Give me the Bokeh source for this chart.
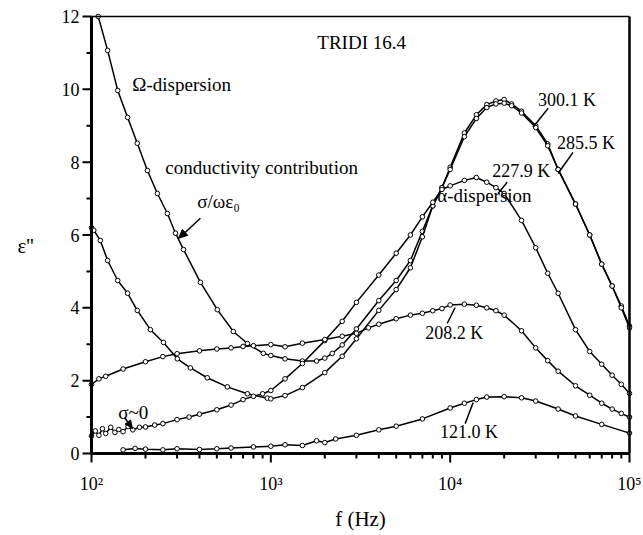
from bokeh.plotting import figure
from bokeh.models import Range1d, Label
from bokeh.core.properties import value
from bokeh.embed import file_html
from bokeh.resources import INLINE

# ---------------- data ----------------
f_300 = [109, 123, 140, 159, 180, 205, 233, 265, 294, 326, 405, 503, 618, 740, 908, 1000,
         1200, 1500, 1800, 2000, 2200, 2500, 3000, 4000, 5000, 6000, 7000, 8000, 9000,
         10000, 12000, 14000, 16000, 18000, 20000, 22000, 25000, 30000, 35000, 40000,
         50000, 60000, 70000, 80000, 90000, 100000]
e_300 = [12.0, 11.07, 9.97, 9.23, 8.52, 7.77, 7.14, 6.59, 6.05, 5.6, 4.7, 3.95, 3.35, 3.02, 2.75, 2.69,
         2.6, 2.54, 2.54, 2.62, 2.75, 2.98, 3.42, 4.2, 4.75, 5.3, 6.1, 6.8, 7.3,
         7.86, 8.8, 9.3, 9.58, 9.68, 9.72, 9.6, 9.4, 9.0, 8.5, 7.8,
         6.85, 6.0, 5.2, 4.6, 4.05, 3.5]

f_285 = [100, 103, 112, 123, 140, 159, 180, 213, 252, 301, 356, 442, 572, 740, 956, 1000,
         1200, 1500, 2000, 2500, 3000, 4000, 5000, 6000, 7000, 8000, 9000, 10000, 12000,
         14000, 16000, 18000, 20000, 22000, 25000, 30000, 35000, 40000, 50000, 60000,
         70000, 80000, 90000, 100000]
e_285 = [6.2, 6.13, 5.85, 5.3, 4.75, 4.4, 3.93, 3.4, 3.05, 2.6, 2.35, 2.08, 1.83, 1.64, 1.52, 1.5,
         1.59, 1.81, 2.22, 2.67, 3.15, 3.93, 4.5, 5.1, 5.95, 6.8, 7.3, 7.8, 8.7,
         9.2, 9.5, 9.6, 9.62, 9.55, 9.35, 8.95, 8.45, 7.8, 6.85, 6.0,
         5.2, 4.6, 4.0, 3.45]

f_228 = [100, 105, 110, 115, 120, 128, 135, 142, 150, 160, 170, 185, 200, 225, 250, 300, 350,
         400, 500, 600, 700, 800, 900, 1000, 1200, 1500, 2000, 2500, 3000, 4000, 5000, 6000,
         7000, 8000, 9000, 10000, 12000, 14000, 16000, 18000, 20000, 25000, 30000, 35000,
         40000, 50000, 60000, 70000, 80000, 90000, 100000]
e_228 = [0.48, 0.62, 0.5, 0.68, 0.55, 0.72, 0.58, 0.66, 0.6, 0.74, 0.65, 0.72, 0.73, 0.78, 0.82, 0.93, 1.0,
         1.08, 1.2, 1.33, 1.48, 1.57, 1.64, 1.73, 2.05, 2.47, 3.1, 3.63, 4.15, 4.9, 5.5, 6.0,
         6.5, 6.9, 7.25, 7.35, 7.5, 7.58, 7.45, 7.3, 7.14, 6.4, 5.65, 4.95,
         4.4, 3.4, 2.8, 2.45, 2.15, 1.9, 1.65]

f_208 = [100, 110, 120, 150, 200, 250, 300, 400, 500, 600, 700, 800, 1000, 1200, 1500, 2000,
         2500, 3000, 3500, 4000, 5000, 6000, 7000, 8000, 9000, 10000, 12000, 14000, 16000,
         18000, 20000, 25000, 30000, 35000, 40000, 50000, 60000, 70000, 80000, 90000, 100000]
e_208 = [1.9, 2.05, 2.12, 2.32, 2.52, 2.66, 2.74, 2.82, 2.87, 2.9, 2.94, 2.96, 2.99, 2.93, 3.03, 3.13,
         3.22, 3.3, 3.45, 3.55, 3.7, 3.8, 3.85, 3.92, 3.98, 4.08, 4.1, 4.07, 4.0,
         3.92, 3.8, 3.37, 2.9, 2.55, 2.26, 1.86, 1.6, 1.38, 1.22, 1.1, 1.0]

f_121 = [150, 175, 200, 250, 300, 400, 500, 600, 800, 1000, 1200, 1500, 1800, 2000, 2300, 3000,
         4000, 5000, 7000, 10000, 12000, 14000, 16000, 20000, 25000, 30000, 40000, 50000,
         70000, 100000]
e_121 = [0.1, 0.14, 0.12, 0.1, 0.13, 0.11, 0.13, 0.15, 0.18, 0.2, 0.24, 0.22, 0.35, 0.3, 0.4, 0.5,
         0.65, 0.75, 0.95, 1.25, 1.38, 1.48, 1.55, 1.56, 1.53, 1.44, 1.22, 1.03,
         0.8, 0.56]

curves = [(f_300, e_300), (f_285, e_285), (f_228, e_228), (f_208, e_208), (f_121, e_121)]

# axis definitions
x_major = [100, 1000, 10000, 100000]
x_major_labels = ["10\u00b2", "10\u00b3", "10\u2074", "10\u2075"]
y_major = [0, 2, 4, 6, 8, 10, 12]
y_minor = [1, 3, 5, 7, 9, 11]
X_MIN, X_MAX = 100, 100000
Y_MIN, Y_MAX = 0, 12

FONT = "Liberation Serif"

# ---------------- layout geometry (pixels) ----------------
W, H = 643, 535
LEFT, RIGHT, TOP, BOTTOM = 91, 14, 16, 82
DEC = (W - LEFT - RIGHT) / 3.0          # pixels per decade
UNIT = (H - TOP - BOTTOM) / 12.0        # pixels per unit of eps''

def xoff(f, px):
    """frequency shifted by px screen pixels (positive = right)"""
    return f * 10 ** (px / DEC)

def yoff(e, px):
    """eps'' value shifted by px screen pixels (positive = up)"""
    return e + px / UNIT

# the frame covers the whole canvas; the axes are drawn in it with the plot's own scales
p = figure(width=W, height=H, x_axis_type="log", x_axis_location=None, y_axis_location=None,
           x_range=Range1d(xoff(X_MIN, -LEFT), xoff(X_MAX, RIGHT)),
           y_range=Range1d(yoff(Y_MIN, -BOTTOM), yoff(Y_MAX, TOP)),
           output_backend="svg", toolbar_location=None, min_border=0)
try:
    p.title_location = None
except Exception:
    p.title.visible = False
p.xgrid.grid_line_color = None
p.ygrid.grid_line_color = None
p.outline_line_color = None
p.background_fill_color = "white"
p.border_fill_color = "white"

# ---------------- curves ----------------
for fx, ey in curves:
    p.line(fx, ey, line_color="black", line_width=1.5)
    p.circle(fx, ey, radius=2.3, radius_units="screen", fill_color="white",
             line_color="black", line_width=1)

# ---------------- axes ----------------
# frame box: left and bottom heavy, right medium, top light
p.segment(x0=[X_MIN, X_MIN], y0=[Y_MIN, Y_MIN], x1=[X_MIN, X_MAX], y1=[Y_MAX, Y_MIN],
          line_color="black", line_width=3)
p.segment(x0=[X_MAX], y0=[Y_MIN], x1=[X_MAX], y1=[Y_MAX], line_color="black", line_width=2.5)
p.segment(x0=[X_MIN], y0=[Y_MAX], x1=[X_MAX], y1=[Y_MAX], line_color="black", line_width=1.5)

# x ticks (outward, below)
x_minor = [m * d for d in x_major[:-1] for m in range(2, 10)]
p.segment(x0=x_major, y0=[Y_MIN] * len(x_major), x1=x_major,
          y1=[yoff(Y_MIN, -9)] * len(x_major), line_color="black", line_width=2)
p.segment(x0=x_minor, y0=[Y_MIN] * len(x_minor), x1=x_minor,
          y1=[yoff(Y_MIN, -5)] * len(x_minor), line_color="black", line_width=2)
# y ticks (outward, left)
p.segment(x0=[X_MIN] * len(y_major), y0=y_major, x1=[xoff(X_MIN, -9)] * len(y_major),
          y1=y_major, line_color="black", line_width=2)
p.segment(x0=[X_MIN] * len(y_minor), y0=y_minor, x1=[xoff(X_MIN, -5)] * len(y_minor),
          y1=y_minor, line_color="black", line_width=2)

# tick labels
p.text(x=x_major, y=[yoff(Y_MIN, -20)] * len(x_major), text=x_major_labels,
       text_font=value(FONT), text_font_size=value("18px"), text_color="black",
       text_align="center", text_baseline="top")
p.text(x=[xoff(X_MIN, -12)] * len(y_major), y=y_major, text=[str(v) for v in y_major],
       text_font=value(FONT), text_font_size=value("18px"), text_color="black",
       text_align="right", text_baseline="middle")

# axis titles
p.text(x=[10 ** 3.5], y=[yoff(Y_MIN, -53)], text=["f (Hz)"],
       text_font=value(FONT), text_font_size=value("21px"), text_color="black",
       text_align="center", text_baseline="top")
p.text(x=[xoff(X_MIN, -74)], y=[yoff(Y_MIN, 208)], text=["\u03b5''"],
       text_font=value(FONT), text_font_size=value("21px"), text_color="black",
       text_align="left", text_baseline="middle")

# ---------------- annotations ----------------
def lab(x, y, text, size="19px"):
    p.add_layout(Label(x=x, y=y, text=text, text_font=FONT, text_font_size=size,
                       text_baseline="middle", text_align="left", text_color="black"))

lab(1816, 11.29, "TRIDI 16.4")
lab(169, 10.14, "\u03a9-dispersion")
lab(258, 7.86, "conductivity contribution")
lab(389, 6.92, "\u03c3/\u03c9\u03b5\u2080")
lab(30900, 9.70, "300.1 K", "18px")
lab(39400, 8.52, "285.5 K", "18px")
lab(17150, 7.77, "227.9 K", "18px")
lab(8470, 7.09, "\u03b1-dispersion")
lab(7260, 3.32, "208.2 K", "18px")
lab(8790, 0.58, "121.0 K", "18px")
lab(141, 1.13, "\u03c3~0")

# pointer lines from the labels to the curves
ptr_x0 = [405, 152.7, 35200, 48400, 20800, 9620, 12130]
ptr_y0 = [6.46, 0.99, 9.48, 8.27, 7.45, 3.57, 0.82]
ptr_x1 = [332.5, 159.3, 28970, 39990, 18500, 10660, 13430]
ptr_y1 = [6.07, 0.865, 8.96, 7.69, 7.14, 4.01, 1.40]
p.segment(x0=ptr_x0, y0=ptr_y0, x1=ptr_x1, y1=ptr_y1, line_color="black", line_width=1.5)
# filled arrow heads of the two arrows
head_xs = [[305.3, 344.2, 321.2], [169.2, 153.7, 165.2]]
head_ys = [[5.907, 5.992, 6.154], [0.687, 0.809, 0.922]]
p.patches(head_xs, head_ys, fill_color="black", line_color="black", line_width=1)

open("out.html", "w").write(file_html(p, INLINE))
